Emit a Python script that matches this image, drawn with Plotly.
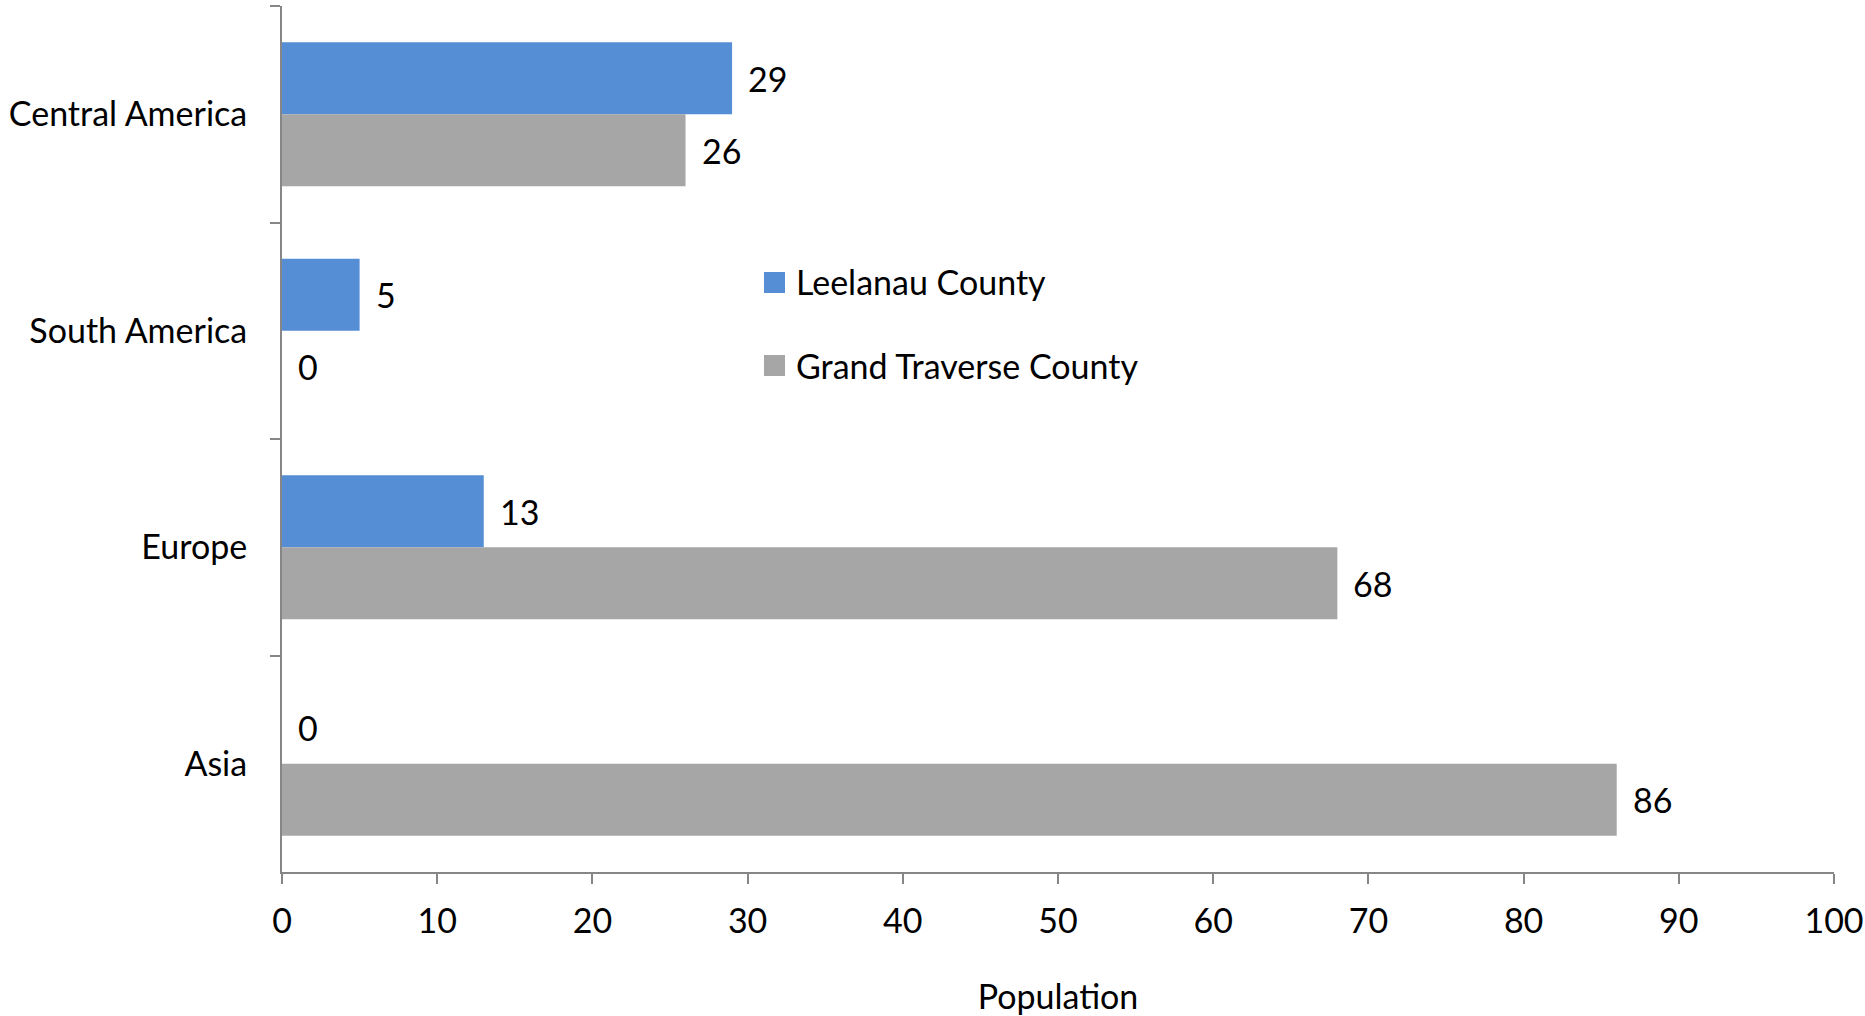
import plotly.graph_objects as go

# Foreign-born population by region of birth
regions = ["Central America", "South America", "Europe", "Asia"]
leelanau = [29, 5, 13, 0]
grand_traverse = [26, 0, 68, 86]
series_names = ["Leelanau County", "Grand Traverse County"]
x_ticks = [0, 10, 20, 30, 40, 50, 60, 70, 80, 90, 100]

BLUE = "#558ED5"
GRAY = "#A6A6A6"
AXIS = "#868686"
FONT = "Lato"
FS = 34

W, H = 1865, 1016
L, R, T, B = 282, 31, 6, 144

fig = go.Figure()
fig.add_trace(go.Bar(y=regions, x=leelanau, orientation="h", name=series_names[0],
                     marker=dict(color=BLUE, line=dict(width=0)), showlegend=False))
fig.add_trace(go.Bar(y=regions, x=grand_traverse, orientation="h", name=series_names[1],
                     marker=dict(color=GRAY, line=dict(width=0)), showlegend=False))

# value labels beside each bar (upper bar = first series, lower bar = second)
plot_h = H - T - B
band = plot_h / len(regions)
bar_gap = 0.335
half_bar = band * (1 - bar_gap) / 4
for vals, shift in ((leelanau, half_bar), (grand_traverse, -half_bar)):
    for r, v in zip(regions, vals):
        fig.add_annotation(x=v, y=r, text=str(v), showarrow=False, xanchor="left",
                           xshift=14, yshift=shift,
                           font=dict(family=FONT, size=FS, color="black"))

# legend drawn as swatches + labels
plot_w = W - L - R
def px(x):
    return (x - L) / plot_w
def py(y):
    return (H - B - y) / plot_h

for (color, name, top) in ((BLUE, series_names[0], 272), (GRAY, series_names[1], 355)):
    fig.add_shape(type="rect", xref="paper", yref="paper",
                  x0=px(764), x1=px(785), y0=py(top + 21), y1=py(top),
                  fillcolor=color, line=dict(width=0))
    fig.add_annotation(xref="paper", yref="paper", x=px(794), y=py(top + 10),
                       text=name, showarrow=False, xanchor="left", yanchor="middle",
                       font=dict(family=FONT, size=FS, color="black"))

fig.update_layout(
    width=W, height=H,
    margin=dict(l=L, r=R, t=T, b=B, pad=0, autoexpand=False),
    barmode="group", bargap=bar_gap, bargroupgap=0,
    plot_bgcolor="white", paper_bgcolor="white",
    font=dict(family=FONT, size=FS, color="black"),
    showlegend=False,
)
fig.update_xaxes(
    range=[0, 100], tickvals=x_ticks, ticks="outside", ticklen=10, tickwidth=2,
    tickcolor=AXIS, showline=True, linecolor=AXIS, linewidth=2, showgrid=False,
    zeroline=False, automargin=False, ticklabelstandoff=8,
    tickfont=dict(family=FONT, size=FS, color="black"),
    title=dict(text="Population", standoff=54, font=dict(family=FONT, size=FS, color="black")),
)
fig.update_yaxes(
    type="category", autorange="reversed", tickson="boundaries", ticks="outside",
    ticklen=10, tickwidth=2, tickcolor=AXIS, showline=True, linecolor=AXIS, linewidth=2,
    showgrid=False, zeroline=False, automargin=False, ticklabelstandoff=26,
    tickfont=dict(family=FONT, size=FS, color="black"),
)

fig.write_html("out.html")
